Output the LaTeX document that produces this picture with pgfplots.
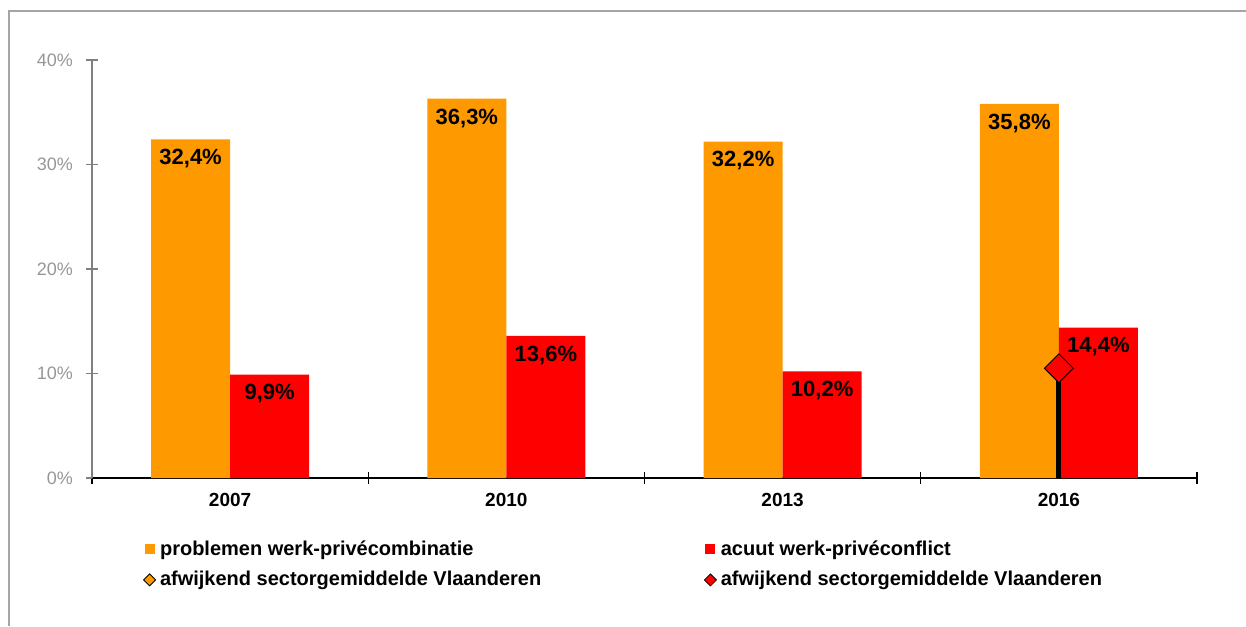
\documentclass[border=0pt]{standalone}
\usepackage{fontspec}
\setmainfont{Liberation Sans}
\usepackage{pgfplots}
\pgfplotsset{compat=1.18}
\definecolor{barOrange}{RGB}{255,153,0}
\definecolor{barRed}{RGB}{255,0,0}
\definecolor{axisGray}{RGB}{128,128,128}
\definecolor{labelGray}{RGB}{150,150,150}
\definecolor{frameGray}{RGB}{165,165,165}

\begin{document}
\begin{tikzpicture}
% page size: 1px = 0.5pt, axis origin at (92px,478px)
\path[use as bounding box] (-46pt,-74pt) rectangle (577pt,239pt);
\draw[frameGray, line width=0.8pt] (-41.5pt,-74pt) -- (-41.5pt,233.5pt) -- (577pt,233.5pt);
\begin{axis}[
    at={(0,0)}, anchor=south west,
    scale only axis, width=552.5pt, height=209pt,
    xmin=-0.5, xmax=3.5, ymin=0, ymax=40,
    axis x line=bottom, axis y line=left,
    axis line style={-},
    x axis line style={black, line width=0.7pt},
    y axis line style={axisGray, line width=0.6pt},
    tick align=center, major tick length=6pt,
    xtick={-0.5,0.5,1.5,2.5,3.5}, xticklabels={},
    xtick style={black, line width=0.6pt},
    extra x ticks={0,1,2,3},
    extra x tick labels={2007,2010,2013,2016},
    extra x tick style={major tick length=0pt,
        tick label style={font=\bfseries\fontsize{9.5}{11}\selectfont, yshift=-4pt}},
    ytick={0,10,20,30,40},
    yticklabels={0\%,10\%,20\%,30\%,40\%},
    ytick style={axisGray, line width=0.6pt},
    y tick label style={font=\fontsize{9}{10}\selectfont, text=labelGray, xshift=-3pt},
    legend columns=2,
    legend cell align=left,
    legend style={draw=none, fill=none, at={(0.046,-0.139)}, anchor=north west,
        inner sep=0pt, column sep=0pt, row sep=2.5pt,
        font=\bfseries\fontsize{10}{12}\selectfont},
]
    % problemen werk-privecombinatie
    \addplot[ybar, bar width=39.5pt, bar shift=-19.75pt, fill=barOrange, draw=none,
        point meta=explicit symbolic, nodes near coords,
        every node near coord/.append style={anchor=north, yshift=-1.5pt, xshift=-19.75pt,
            font=\bfseries\fontsize{11}{13}\selectfont, text=black},
        legend image code/.code={\fill[barOrange] (1pt,-2.5pt) rectangle (6pt,2.5pt);}]
        coordinates {(0,32.4) [32,4\%] (1,36.3) [36,3\%] (2,32.2) [32,2\%] (3,35.8) [35,8\%]};
    \addlegendentry{\makebox[270pt][l]{problemen werk-privécombinatie}}
    % acuut werk-priveconflict
    \addplot[ybar, bar width=39.5pt, bar shift=19.75pt, fill=barRed, draw=none,
        point meta=explicit symbolic, nodes near coords,
        every node near coord/.append style={anchor=north, yshift=-1.5pt, xshift=19.75pt,
            font=\bfseries\fontsize{11}{13}\selectfont, text=black},
        legend image code/.code={\fill[barRed] (1pt,-2.5pt) rectangle (6pt,2.5pt);}]
        coordinates {(0,9.9) [9,9\%] (1,13.6) [13,6\%] (2,10.2) [10,2\%] (3,14.4) [14,4\%]};
    \addlegendentry{acuut werk-privéconflict}
    \addlegendimage{legend image code/.code={\draw[fill=barOrange, draw=black, line width=0.4pt]
        (0.5pt,0pt) -- (3.5pt,3pt) -- (6.5pt,0pt) -- (3.5pt,-3pt) -- cycle;}}
    \addlegendentry{\makebox[270pt][l]{afwijkend sectorgemiddelde Vlaanderen}}
    % drop line to the sector average
    \addplot[ycomb, black, line width=2.6pt, forget plot] coordinates {(3,10.5)};
    \addplot[only marks, mark=square*, mark size=5.1pt,
        mark options={rotate=45, fill=barRed, draw=black, line width=0.5pt},
        legend image code/.code={\draw[fill=barRed, draw=black, line width=0.4pt]
            (0.5pt,0pt) -- (3.5pt,3pt) -- (6.5pt,0pt) -- (3.5pt,-3pt) -- cycle;}]
        coordinates {(3,10.5)};
    \addlegendentry{afwijkend sectorgemiddelde Vlaanderen}
\end{axis}
\end{tikzpicture}
\end{document}
